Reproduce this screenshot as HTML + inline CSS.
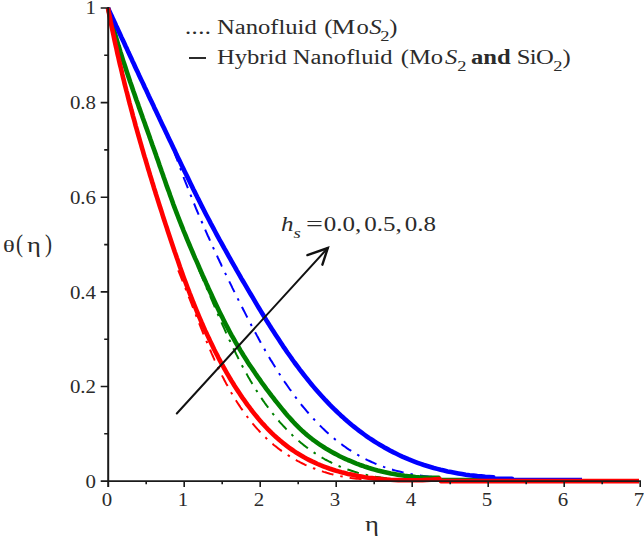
<!DOCTYPE html><html><head><meta charset="utf-8"><title>chart</title><style>
html,body{margin:0;padding:0;background:#fff;}
#c{position:relative;width:644px;height:538px;overflow:hidden;background:#fff;font-family:"Liberation Serif",serif;color:#2b2b2b;}
.t{position:absolute;white-space:nowrap;line-height:1;transform-origin:0 0;}
.yl{font-size:19px;transform:scaleX(1.1);transform-origin:100% 0;text-align:right;width:40px;}
.xl{font-size:19px;transform:scaleX(1.1);transform-origin:50% 0;text-align:center;width:20px;}
.lg{font-size:20px;transform:scaleX(1.23);}
sub{font-size:0.75em;vertical-align:baseline;position:relative;top:0.47em;line-height:0;}
</style></head><body><div id="c">
<svg width="644" height="538" viewBox="0 0 644 538" style="position:absolute;left:0;top:0">
<path d="M173.8,150.2 L174.6,152.4 L175.3,154.6 L176.1,156.8 L176.9,159.0 L177.7,161.2 L178.5,163.4 L179.3,165.6 L180.1,167.8 L180.9,169.9 L181.7,172.1 L182.5,174.3 L183.3,176.4 L184.1,178.6 L185.0,180.8 L185.8,182.9 L186.6,185.0 L187.5,187.2 L188.3,189.3 L189.2,191.5 L190.0,193.6 L190.9,195.7 L191.7,197.8 L192.6,200.0 L193.4,202.1 L194.3,204.2 L195.2,206.3 L196.0,208.4 L196.9,210.5 L197.8,212.6 L198.7,214.7 L199.6,216.8 L200.5,218.9 L201.4,221.0 L202.3,223.0 L203.2,225.1 L204.1,227.2 L205.0,229.3 L205.9,231.3 L206.8,233.4 L207.7,235.5 L208.7,237.5 L209.6,239.6 L210.5,241.6 L211.4,243.7 L212.4,245.7 L213.3,247.8 L214.2,249.8 L215.2,251.9 L216.1,253.9 L217.1,255.9 L218.0,258.0 L219.0,260.0 L219.9,262.0 L220.9,264.0 L221.8,266.1 L222.8,268.1 L223.8,270.1 L224.7,272.1 L225.7,274.1 L226.7,276.1 L227.6,278.1 L228.6,280.1 L229.6,282.1 L230.6,284.1 L231.6,286.1 L232.5,288.1 L233.5,290.1 L234.5,292.1 L235.5,294.1 L236.5,296.1 L237.5,298.1 L238.5,300.1 L239.5,302.0 L240.5,304.0 L241.5,306.0 L242.5,308.0 L243.5,310.0 L244.5,311.9 L245.5,313.9 L246.5,315.9 L247.5,317.8 L248.5,319.8 L249.6,321.8 L250.6,323.7 L251.6,325.7 L252.6,327.6 L253.7,329.6 L254.7,331.5 L255.8,333.4 L256.8,335.4 L257.9,337.3 L258.9,339.2 L260.0,341.2 L261.0,343.1 L262.1,345.0 L263.2,346.9 L264.3,348.8 L265.3,350.7 L266.4,352.6 L267.5,354.5 L268.6,356.3 L269.7,358.2 L270.8,360.1 L272.0,361.9 L273.1,363.8 L274.2,365.6 L275.4,367.5 L276.5,369.3 L277.7,371.1 L278.8,373.0 L280.0,374.8 L281.2,376.6 L282.3,378.4 L283.5,380.2 L284.7,382.0 L285.9,383.7 L287.2,385.5 L288.4,387.2 L289.6,389.0 L290.9,390.7 L292.1,392.5 L293.4,394.2 L294.6,395.9 L295.9,397.6 L297.2,399.3 L298.5,401.0 L299.8,402.6 L301.1,404.3 L302.4,406.0 L303.8,407.6 L305.1,409.2 L306.5,410.9 L307.9,412.5 L309.2,414.1 L310.6,415.6 L312.0,417.2 L313.5,418.8 L314.9,420.3 L316.3,421.9 L317.8,423.4 L319.3,424.9 L320.8,426.4 L322.3,427.9 L323.8,429.3 L325.3,430.8 L326.9,432.2 L328.4,433.6 L330.0,435.0 L331.6,436.4 L333.2,437.8 L334.8,439.1 L336.5,440.4 L338.2,441.8 L339.8,443.1 L341.6,444.3 L343.3,445.6 L345.0,446.8 L346.8,448.1 L348.6,449.3 L350.4,450.4 L352.2,451.6 L354.0,452.7 L355.9,453.8 L357.8,454.9 L359.7,456.0 L361.6,457.1 L363.5,458.1 L365.5,459.1 L367.5,460.1 L369.5,461.0 L371.6,462.0 L373.7,462.9 L375.7,463.8 L377.9,464.6 L380.0,465.5 L382.2,466.3 L384.4,467.1 L386.6,467.8 L388.8,468.6 L391.1,469.3 L393.4,470.0 L395.7,470.6 L398.1,471.2 L400.5,471.8 L402.9,472.4 L405.3,472.9 L407.8,473.5 L410.3,473.9 L412.8,474.4 L415.4,474.8 L418.0,475.2 L420.6,475.6 L423.2,475.9 L425.9,476.2 L428.6,476.5 L431.4,476.7 L434.2,476.9 L437.0,477.1 L439.8,477.2" fill="none" stroke="#0000ff" stroke-width="2" stroke-dasharray="12 7 2.5 7"/>
<path d="M199.0,270.0 L199.6,271.4 L200.2,272.8 L200.8,274.2 L201.4,275.6 L202.0,277.0 L202.6,278.4 L203.2,279.8 L203.8,281.2 L204.4,282.6 L205.0,284.0 L205.6,285.4 L206.2,286.9 L206.8,288.3 L207.4,289.7 L208.0,291.1 L208.6,292.5 L209.2,293.9 L209.8,295.3 L210.4,296.7 L211.0,298.1 L211.6,299.5 L212.2,300.9 L212.8,302.4 L213.4,303.8 L214.0,305.2 L214.6,306.6 L215.2,308.0 L215.8,309.4 L216.4,310.8 L217.0,312.2 L217.6,313.6 L218.2,315.0 L218.8,316.4 L219.5,317.8 L220.1,319.2 L220.7,320.6 L221.3,322.0 L221.9,323.4 L222.5,324.8 L223.1,326.2 L223.8,327.6 L224.4,328.9 L225.0,330.3 L225.6,331.7 L226.2,333.1 L226.9,334.5 L227.5,335.8 L228.1,337.2 L228.8,338.6 L229.4,340.0 L230.1,341.3 L230.7,342.7 L231.3,344.1 L232.0,345.4 L232.6,346.8 L233.3,348.1 L233.9,349.5 L234.6,350.8 L235.3,352.2 L235.9,353.5 L236.6,354.9 L237.3,356.2 L237.9,357.5 L238.6,358.9 L239.3,360.2 L240.0,361.5 L240.6,362.9 L241.3,364.2 L242.0,365.5 L242.7,366.8 L243.4,368.1 L244.1,369.4 L244.8,370.7 L245.5,372.0 L246.3,373.3 L247.0,374.6 L247.7,375.9 L248.4,377.2 L249.2,378.4 L249.9,379.7 L250.6,381.0 L251.4,382.2 L252.1,383.5 L252.9,384.7 L253.6,386.0 L254.4,387.2 L255.2,388.5 L255.9,389.7 L256.7,390.9 L257.5,392.2 L258.3,393.4 L259.1,394.6 L259.9,395.8 L260.7,397.0 L261.5,398.2 L262.3,399.4 L263.1,400.6 L264.0,401.8 L264.8,403.0 L265.6,404.1 L266.5,405.3 L267.3,406.5 L268.2,407.6 L269.0,408.8 L269.9,409.9 L270.8,411.0 L271.6,412.2 L272.5,413.3 L273.4,414.4 L274.3,415.5 L275.2,416.6 L276.1,417.7 L277.0,418.8 L277.9,419.9 L278.9,421.0 L279.8,422.1 L280.7,423.1 L281.7,424.2 L282.6,425.2 L283.6,426.3 L284.6,427.3 L285.6,428.4 L286.5,429.4 L287.5,430.4 L288.5,431.4 L289.5,432.4 L290.5,433.4 L291.6,434.4 L292.6,435.4 L293.6,436.3 L294.7,437.3 L295.7,438.3 L296.8,439.2 L297.9,440.2 L298.9,441.1 L300.0,442.0 L301.1,442.9 L302.2,443.8 L303.3,444.7 L304.4,445.6 L305.6,446.5 L306.7,447.4 L307.9,448.2 L309.0,449.1 L310.2,449.9 L311.4,450.7 L312.5,451.6 L313.7,452.4 L314.9,453.2 L316.1,454.0 L317.4,454.8 L318.6,455.5 L319.9,456.3 L321.1,457.1 L322.4,457.8 L323.6,458.5 L324.9,459.3 L326.2,460.0 L327.5,460.7 L328.9,461.4 L330.2,462.0 L331.5,462.7 L332.9,463.4 L334.2,464.0 L335.6,464.6 L337.0,465.3 L338.4,465.9 L339.8,466.5 L341.2,467.0 L342.7,467.6 L344.1,468.2 L345.6,468.7 L347.0,469.3 L348.5,469.8 L350.0,470.3 L351.5,470.8 L353.0,471.3 L354.6,471.8 L356.1,472.2 L357.7,472.7 L359.2,473.1 L360.8,473.6 L362.4,474.0 L364.0,474.4 L365.7,474.7 L367.3,475.1 L368.9,475.5 L370.6,475.8 L372.3,476.1 L374.0,476.5 L375.7,476.8 L377.4,477.0 L379.1,477.3 L380.9,477.6 L382.7,477.8 L384.4,478.0 L386.2,478.3 L388.0,478.5 L389.9,478.6" fill="none" stroke="#008000" stroke-width="2" stroke-dasharray="12 7 2.5 7"/>
<path d="M178.2,270.3 L178.8,271.7 L179.4,273.1 L179.9,274.5 L180.5,275.9 L181.1,277.3 L181.6,278.7 L182.2,280.1 L182.8,281.5 L183.3,282.9 L183.9,284.3 L184.5,285.7 L185.0,287.2 L185.6,288.6 L186.1,290.0 L186.7,291.4 L187.2,292.8 L187.8,294.2 L188.4,295.7 L188.9,297.1 L189.5,298.5 L190.0,299.9 L190.6,301.3 L191.1,302.7 L191.7,304.2 L192.2,305.6 L192.8,307.0 L193.3,308.4 L193.9,309.8 L194.4,311.3 L195.0,312.7 L195.5,314.1 L196.1,315.5 L196.7,316.9 L197.2,318.3 L197.8,319.8 L198.3,321.2 L198.9,322.6 L199.4,324.0 L200.0,325.4 L200.6,326.8 L201.1,328.2 L201.7,329.6 L202.3,331.0 L202.8,332.4 L203.4,333.9 L204.0,335.3 L204.5,336.7 L205.1,338.0 L205.7,339.4 L206.3,340.8 L206.9,342.2 L207.4,343.6 L208.0,345.0 L208.6,346.4 L209.2,347.8 L209.8,349.2 L210.4,350.5 L211.0,351.9 L211.6,353.3 L212.2,354.6 L212.8,356.0 L213.4,357.4 L214.0,358.7 L214.6,360.1 L215.3,361.4 L215.9,362.8 L216.5,364.1 L217.1,365.5 L217.8,366.8 L218.4,368.2 L219.1,369.5 L219.7,370.8 L220.3,372.1 L221.0,373.5 L221.7,374.8 L222.3,376.1 L223.0,377.4 L223.7,378.7 L224.3,380.0 L225.0,381.3 L225.7,382.6 L226.4,383.9 L227.1,385.1 L227.8,386.4 L228.5,387.7 L229.2,388.9 L229.9,390.2 L230.6,391.5 L231.3,392.7 L232.1,394.0 L232.8,395.2 L233.5,396.4 L234.3,397.7 L235.0,398.9 L235.8,400.1 L236.5,401.3 L237.3,402.5 L238.1,403.7 L238.9,404.9 L239.7,406.1 L240.4,407.3 L241.2,408.4 L242.1,409.6 L242.9,410.8 L243.7,411.9 L244.5,413.1 L245.3,414.2 L246.2,415.3 L247.0,416.5 L247.9,417.6 L248.7,418.7 L249.6,419.8 L250.5,420.9 L251.4,422.0 L252.2,423.1 L253.1,424.2 L254.0,425.2 L255.0,426.3 L255.9,427.3 L256.8,428.4 L257.7,429.4 L258.7,430.4 L259.6,431.5 L260.6,432.5 L261.6,433.5 L262.5,434.5 L263.5,435.5 L264.5,436.5 L265.5,437.4 L266.5,438.4 L267.5,439.3 L268.6,440.3 L269.6,441.2 L270.6,442.1 L271.7,443.1 L272.8,444.0 L273.8,444.9 L274.9,445.8 L276.0,446.6 L277.1,447.5 L278.2,448.4 L279.3,449.2 L280.5,450.1 L281.6,450.9 L282.8,451.7 L283.9,452.5 L285.1,453.3 L286.3,454.1 L287.5,454.9 L288.7,455.7 L289.9,456.5 L291.1,457.2 L292.3,457.9 L293.6,458.7 L294.8,459.4 L296.1,460.1 L297.4,460.8 L298.6,461.5 L299.9,462.2 L301.2,462.8 L302.6,463.5 L303.9,464.1 L305.2,464.8 L306.6,465.4 L308.0,466.0 L309.3,466.6 L310.7,467.2 L312.1,467.7 L313.5,468.3 L315.0,468.8 L316.4,469.4 L317.8,469.9 L319.3,470.4 L320.8,470.9 L322.3,471.4 L323.7,471.9 L325.3,472.3 L326.8,472.8 L328.3,473.2 L329.9,473.7 L331.4,474.1 L333.0,474.5 L334.6,474.9 L336.2,475.2 L337.8,475.6 L339.4,475.9 L341.1,476.3 L342.7,476.6 L344.4,476.9 L346.1,477.2 L347.8,477.5 L349.5,477.7 L351.2,478.0 L352.9,478.2 L354.7,478.4 L356.4,478.7 L358.2,478.8 L360.0,479.0 L361.8,479.2" fill="none" stroke="#ff0000" stroke-width="2" stroke-dasharray="12 7 2.5 7"/>
<path d="M108.0,8.0 L108.8,11.2 L109.6,14.4 L110.5,17.6 L111.3,20.8 L112.2,23.9 L113.1,27.1 L114.0,30.2 L114.8,33.3 L115.8,36.5 L116.7,39.6 L117.6,42.7 L118.5,45.8 L119.5,48.8 L120.4,51.9 L121.4,55.0 L122.3,58.0 L123.3,61.1 L124.3,64.1 L125.3,67.1 L126.3,70.2 L127.3,73.2 L128.3,76.2 L129.3,79.2 L130.3,82.2 L131.4,85.2 L132.4,88.2 L133.4,91.2 L134.5,94.2 L135.5,97.2 L136.5,100.2 L137.6,103.1 L138.6,106.1 L139.7,109.1 L140.7,112.0 L141.8,115.0 L142.8,118.0 L143.9,121.0 L145.0,123.9 L146.0,126.9 L147.1,129.9 L148.1,132.8 L149.2,135.8 L150.2,138.8 L151.3,141.7 L152.3,144.7 L153.4,147.7 L154.4,150.6 L155.5,153.6 L156.5,156.6 L157.6,159.6 L158.6,162.6 L159.6,165.6 L160.7,168.5 L161.7,171.5 L162.8,174.5 L163.8,177.5 L164.9,180.5 L165.9,183.4 L166.9,186.4 L168.0,189.4 L169.1,192.3 L170.1,195.3 L171.2,198.3 L172.3,201.2 L173.3,204.2 L174.4,207.1 L175.5,210.0 L176.6,212.9 L177.7,215.8 L178.9,218.8 L180.0,221.6 L181.1,224.5 L182.3,227.4 L183.4,230.3 L184.6,233.1 L185.8,236.0 L186.9,238.8 L188.1,241.7 L189.3,244.5 L190.5,247.3 L191.7,250.2 L192.9,253.0 L194.1,255.8 L195.3,258.6 L196.6,261.4 L197.8,264.2 L199.0,267.0 L200.2,269.8 L201.5,272.6 L202.7,275.4 L204.0,278.2 L205.2,280.9 L206.4,283.7 L207.7,286.5 L208.9,289.3 L210.2,292.0 L211.5,294.8 L212.7,297.5 L214.0,300.3 L215.3,303.0 L216.6,305.7 L217.9,308.5 L219.2,311.2 L220.5,313.9 L221.9,316.6 L223.2,319.3 L224.5,321.9 L225.9,324.6 L227.3,327.2 L228.7,329.9 L230.1,332.5 L231.5,335.1 L233.0,337.7 L234.4,340.2 L235.9,342.8 L237.4,345.3 L238.9,347.8 L240.4,350.4 L241.9,352.8 L243.4,355.3 L245.0,357.8 L246.6,360.3 L248.1,362.7 L249.7,365.1 L251.4,367.5 L253.0,369.9 L254.6,372.3 L256.2,374.7 L257.9,377.1 L259.6,379.4 L261.2,381.8 L262.9,384.1 L264.6,386.4 L266.3,388.8 L268.1,391.1 L269.8,393.3 L271.5,395.6 L273.3,397.9 L275.0,400.2 L276.8,402.4 L278.6,404.7 L280.4,406.9 L282.2,409.1 L284.0,411.3 L285.8,413.5 L287.7,415.7 L289.6,417.8 L291.5,419.9 L293.4,422.0 L295.4,424.1 L297.4,426.1 L299.4,428.1 L301.5,430.1 L303.6,432.0 L305.7,433.9 L307.9,435.7 L310.1,437.5 L312.4,439.3 L314.7,441.0 L317.0,442.7 L319.4,444.3 L321.8,445.9 L324.3,447.5 L326.7,449.1 L329.3,450.6 L331.8,452.0 L334.4,453.4 L337.1,454.8 L339.7,456.2 L342.4,457.5 L345.2,458.8 L347.9,460.0 L350.8,461.2 L353.6,462.4 L356.5,463.6 L359.4,464.7 L362.4,465.7 L365.3,466.8 L368.4,467.8 L371.5,468.7 L374.6,469.6 L377.7,470.5 L380.9,471.3 L384.2,472.1 L387.5,472.8 L390.8,473.5 L394.2,474.1 L397.6,474.7 L401.1,475.3 L404.6,475.8 L408.2,476.2 L411.8,476.6 L415.5,477.0 L419.2,477.3 L423.0,477.5 L426.8,477.7 L430.7,477.8 L434.7,477.9 L438.7,477.9 L440,480 L493,480" fill="none" stroke="#008000" stroke-width="4.6" stroke-linejoin="round"/>
<path d="M108.0,8.0 L109.3,10.9 L110.7,13.9 L112.1,16.8 L113.4,19.8 L114.8,22.7 L116.1,25.7 L117.5,28.6 L118.8,31.5 L120.2,34.5 L121.5,37.4 L122.9,40.3 L124.3,43.3 L125.6,46.2 L127.0,49.1 L128.3,52.1 L129.7,55.0 L131.1,57.9 L132.4,60.9 L133.8,63.8 L135.1,66.7 L136.5,69.7 L137.9,72.6 L139.2,75.5 L140.6,78.4 L142.0,81.4 L143.4,84.3 L144.7,87.2 L146.1,90.1 L147.5,93.1 L148.8,96.0 L150.2,98.9 L151.6,101.8 L153.0,104.7 L154.3,107.7 L155.7,110.6 L157.1,113.5 L158.5,116.4 L159.8,119.3 L161.2,122.2 L162.6,125.2 L164.0,128.1 L165.4,131.0 L166.8,133.9 L168.1,136.8 L169.5,139.7 L170.9,142.6 L172.3,145.5 L173.7,148.4 L175.1,151.3 L176.4,154.3 L177.8,157.2 L179.2,160.1 L180.6,163.0 L182.0,165.9 L183.4,168.8 L184.8,171.7 L186.2,174.6 L187.6,177.4 L189.0,180.3 L190.4,183.2 L191.8,186.1 L193.2,189.0 L194.7,191.9 L196.1,194.7 L197.5,197.6 L199.0,200.4 L200.4,203.3 L201.8,206.1 L203.3,209.0 L204.7,211.8 L206.2,214.7 L207.7,217.5 L209.2,220.3 L210.6,223.1 L212.1,225.9 L213.6,228.7 L215.1,231.5 L216.6,234.3 L218.1,237.1 L219.6,239.9 L221.2,242.6 L222.7,245.4 L224.2,248.2 L225.8,250.9 L227.3,253.7 L228.8,256.4 L230.4,259.2 L231.9,261.9 L233.5,264.7 L235.1,267.4 L236.6,270.1 L238.2,272.8 L239.8,275.6 L241.3,278.3 L242.9,281.0 L244.5,283.7 L246.1,286.4 L247.7,289.1 L249.3,291.8 L250.9,294.5 L252.5,297.2 L254.1,299.9 L255.7,302.6 L257.3,305.3 L258.9,308.0 L260.5,310.7 L262.1,313.3 L263.8,316.0 L265.4,318.6 L267.0,321.3 L268.7,323.9 L270.3,326.6 L272.0,329.2 L273.7,331.8 L275.4,334.4 L277.1,337.0 L278.8,339.6 L280.5,342.2 L282.2,344.8 L283.9,347.4 L285.7,349.9 L287.4,352.5 L289.2,355.0 L291.0,357.5 L292.7,360.0 L294.5,362.5 L296.4,365.0 L298.2,367.4 L300.0,369.9 L301.9,372.3 L303.8,374.7 L305.7,377.1 L307.6,379.5 L309.5,381.9 L311.4,384.2 L313.4,386.6 L315.4,388.9 L317.4,391.2 L319.4,393.5 L321.4,395.7 L323.5,398.0 L325.5,400.2 L327.6,402.4 L329.7,404.6 L331.9,406.8 L334.0,408.9 L336.2,411.0 L338.4,413.1 L340.6,415.2 L342.9,417.2 L345.1,419.3 L347.4,421.3 L349.7,423.2 L352.1,425.2 L354.5,427.1 L356.9,429.0 L359.3,430.9 L361.7,432.7 L364.2,434.5 L366.7,436.3 L369.3,438.1 L371.9,439.8 L374.5,441.5 L377.1,443.1 L379.8,444.7 L382.5,446.3 L385.2,447.9 L388.0,449.4 L390.7,450.9 L393.6,452.4 L396.5,453.8 L399.4,455.2 L402.3,456.6 L405.3,457.9 L408.3,459.2 L411.3,460.4 L414.4,461.6 L417.6,462.8 L420.7,463.9 L423.9,465.0 L427.2,466.0 L430.5,467.0 L433.8,468.0 L437.2,468.9 L440.6,469.8 L444.1,470.6 L447.6,471.4 L451.1,472.1 L454.7,472.8 L458.4,473.5 L462.0,474.1 L465.8,474.7 L469.6,475.2 L473.4,475.6 L477.3,476.1 L481.2,476.4 L485.2,476.8 L489.2,477.0 L493.3,477.2 L493,478.8 L512,478.8 L512,480 L582,480" fill="none" stroke="#0000ff" stroke-width="4.6" stroke-linejoin="round"/>
<path d="M108.0,8.0 L108.6,11.4 L109.3,14.8 L110.0,18.1 L110.6,21.5 L111.3,24.9 L112.0,28.2 L112.7,31.5 L113.4,34.9 L114.1,38.2 L114.8,41.5 L115.5,44.8 L116.3,48.1 L117.0,51.4 L117.7,54.7 L118.5,58.0 L119.2,61.3 L120.0,64.6 L120.8,67.8 L121.6,71.1 L122.3,74.3 L123.1,77.6 L123.9,80.8 L124.7,84.1 L125.5,87.3 L126.3,90.5 L127.2,93.7 L128.0,96.9 L128.8,100.1 L129.6,103.3 L130.5,106.5 L131.3,109.7 L132.2,112.9 L133.0,116.1 L133.9,119.2 L134.8,122.4 L135.6,125.6 L136.5,128.7 L137.4,131.9 L138.3,135.0 L139.2,138.2 L140.1,141.3 L141.0,144.4 L141.9,147.6 L142.8,150.7 L143.7,153.8 L144.6,156.9 L145.6,160.0 L146.5,163.1 L147.4,166.2 L148.3,169.3 L149.3,172.4 L150.2,175.5 L151.2,178.6 L152.1,181.7 L153.1,184.8 L154.0,187.9 L155.0,190.9 L155.9,194.0 L156.9,197.1 L157.9,200.2 L158.8,203.2 L159.8,206.3 L160.8,209.3 L161.8,212.4 L162.7,215.4 L163.7,218.5 L164.7,221.5 L165.7,224.6 L166.7,227.6 L167.7,230.7 L168.7,233.7 L169.7,236.7 L170.7,239.8 L171.7,242.8 L172.7,245.8 L173.7,248.8 L174.7,251.8 L175.8,254.8 L176.8,257.8 L177.9,260.8 L178.9,263.8 L179.9,266.8 L181.0,269.8 L182.1,272.8 L183.1,275.7 L184.2,278.7 L185.3,281.6 L186.4,284.6 L187.5,287.5 L188.6,290.4 L189.7,293.3 L190.9,296.2 L192.0,299.1 L193.1,302.0 L194.3,304.9 L195.5,307.8 L196.6,310.6 L197.8,313.5 L199.0,316.3 L200.2,319.2 L201.4,322.0 L202.7,324.8 L203.9,327.6 L205.1,330.4 L206.4,333.1 L207.7,335.9 L209.0,338.6 L210.3,341.4 L211.6,344.1 L212.9,346.8 L214.2,349.5 L215.6,352.2 L217.0,354.8 L218.3,357.5 L219.7,360.1 L221.1,362.8 L222.6,365.4 L224.0,368.0 L225.5,370.6 L226.9,373.1 L228.4,375.7 L229.9,378.2 L231.4,380.7 L233.0,383.2 L234.5,385.7 L236.1,388.2 L237.7,390.6 L239.3,393.0 L240.9,395.5 L242.5,397.9 L244.2,400.2 L245.9,402.6 L247.5,404.9 L249.3,407.2 L251.0,409.5 L252.8,411.8 L254.6,414.1 L256.4,416.3 L258.2,418.5 L260.1,420.7 L261.9,422.8 L263.9,424.9 L265.8,427.0 L267.8,429.1 L269.8,431.1 L271.8,433.1 L273.9,435.1 L276.0,437.0 L278.1,438.9 L280.3,440.7 L282.5,442.6 L284.8,444.4 L287.0,446.1 L289.3,447.8 L291.7,449.5 L294.1,451.2 L296.5,452.8 L299.0,454.3 L301.5,455.8 L304.1,457.3 L306.7,458.7 L309.4,460.1 L312.0,461.4 L314.8,462.7 L317.6,464.0 L320.4,465.2 L323.3,466.3 L326.2,467.4 L329.2,468.5 L332.2,469.5 L335.3,470.5 L338.4,471.4 L341.5,472.3 L344.7,473.1 L348.0,473.9 L351.3,474.6 L354.6,475.3 L358.0,476.0 L361.4,476.6 L364.9,477.2 L368.4,477.7 L372.0,478.1 L375.6,478.6 L379.3,478.9 L383.0,479.3 L386.7,479.5 L390.5,479.8 L394.4,480.0 L398.2,480.1 L402.2,480.2 L406.1,480.3 L410.2,480.3 L414.2,480.3 L418.3,480.2 L422.5,480.1 L426.7,479.9 L431.0,479.7 L435.2,479.4 L439.6,479.1 L440,479.8 L441,481.1 L639,481.1" fill="none" stroke="#ff0000" stroke-width="4.6" stroke-linejoin="round"/>
<g stroke="#1a1a1a" fill="none">
<path d="M108.2,7 V487.1" stroke-width="2"/>
<path d="M100.7,481.1 H641" stroke-width="1.8"/>
<path d="M104.2,433.8 H108.2 M100.7,386.5 H108.2 M104.2,339.2 H108.2 M100.7,291.9 H108.2 M104.2,244.6 H108.2 M100.7,197.2 H108.2 M104.2,149.9 H108.2 M100.7,102.6 H108.2 M104.2,55.3 H108.2 M100.7,8.0 H108.2 M146.2,481.1 V484.3 M184.2,481.1 V487.1 M222.2,481.1 V484.3 M260.2,481.1 V487.1 M298.2,481.1 V484.3 M336.2,481.1 V487.1 M374.2,481.1 V484.3 M412.2,481.1 V487.1 M450.2,481.1 V484.3 M488.2,481.1 V487.1 M526.2,481.1 V484.3 M564.2,481.1 V487.1 M602.2,481.1 V484.3 M640.2,481.1 V487.1" stroke-width="1.6"/>
</g>
<g stroke="#111" fill="none" stroke-linecap="round" stroke-linejoin="miter"><path d="M176.8,413.5 L327.8,248" stroke-width="2"/><path d="M307.4,255.1 L327.8,248 L322.4,264.7" stroke-width="2.4"/></g>
</svg>
<div class="t yl" style="left:56.0px;top:471.9px">0</div>
<div class="t yl" style="left:56.0px;top:377.3px">0.2</div>
<div class="t yl" style="left:56.0px;top:282.7px">0.4</div>
<div class="t yl" style="left:56.0px;top:188.0px">0.6</div>
<div class="t yl" style="left:56.0px;top:93.4px">0.8</div>
<div class="t yl" style="left:56.0px;top:-1.9px">1</div>
<div class="t xl" style="left:97.4px;top:489.5px">0</div>
<div class="t xl" style="left:173.4px;top:489.5px">1</div>
<div class="t xl" style="left:249.4px;top:489.5px">2</div>
<div class="t xl" style="left:325.4px;top:489.5px">3</div>
<div class="t xl" style="left:401.4px;top:489.5px">4</div>
<div class="t xl" style="left:477.4px;top:489.5px">5</div>
<div class="t xl" style="left:553.4px;top:489.5px">6</div>
<div class="t xl" style="left:629.4px;top:489.5px">7</div>
<div class="t lg" id="l1d" style="left:185.4px;top:17.1px;letter-spacing:0.35px">....</div>
<div class="t lg" id="l1" style="left:217.4px;top:17.1px;">Nanofluid <span style="margin-left:1.2px">(</span><span style="display:inline-block;margin-left:-0.5px;transform:scaleX(1.09);transform-origin:0 50%">M</span><span style="margin-left:2.2px">o</span><i style="margin-left:0.4px">S</i><sub style="margin-left:-1.2px">2</sub><span style="margin-left:0px">)</span></div>
<div class="t" style="left:188.7px;top:56.6px;width:17.2px;height:2px;background:#2b2b2b"></div>
<div class="t lg" id="l2" style="left:217.0px;top:46.9px;">Hybrid Nanofluid <span style="margin-left:1.6px">(</span>Mo<i style="margin-left:1.6px">S</i><sub>2</sub><b style="margin-left:-1.5px"> and</b> <span style="letter-spacing:-0.5px">SiO</span><sub>2</sub>)</div>
<div class="t" id="hs" style="left:281px;top:214.2px;font-size:20px;transform:scaleX(1.25)"><i>h</i><sub><i>s</i></sub> <span style="display:inline-block;transform:scaleX(1.2);transform-origin:0 50%;margin-left:-1.2px">=</span><span style="word-spacing:-2.6px;margin-left:0.9px"> 0.0, 0.5, 0.8</span></div>
<div class="t" id="ylab" style="left:2.6px;top:237.7px;font-size:17.6px;transform:scaleX(1.39)">&#952;</div>
<div class="t" style="left:16.2px;top:231.7px;font-size:24.8px;transform:scaleX(0.85)">(</div>
<div class="t" style="left:27.4px;top:235.0px;font-size:20.3px;transform:scaleX(1.31)">&#951;</div>
<div class="t" style="left:45.1px;top:231.7px;font-size:24.8px;transform:scaleX(0.85)">)</div>
<div class="t" id="xlab" style="left:365.1px;top:513.9px;font-size:20.3px;transform:scaleX(1.31)">&#951;</div>
</div></body></html>
